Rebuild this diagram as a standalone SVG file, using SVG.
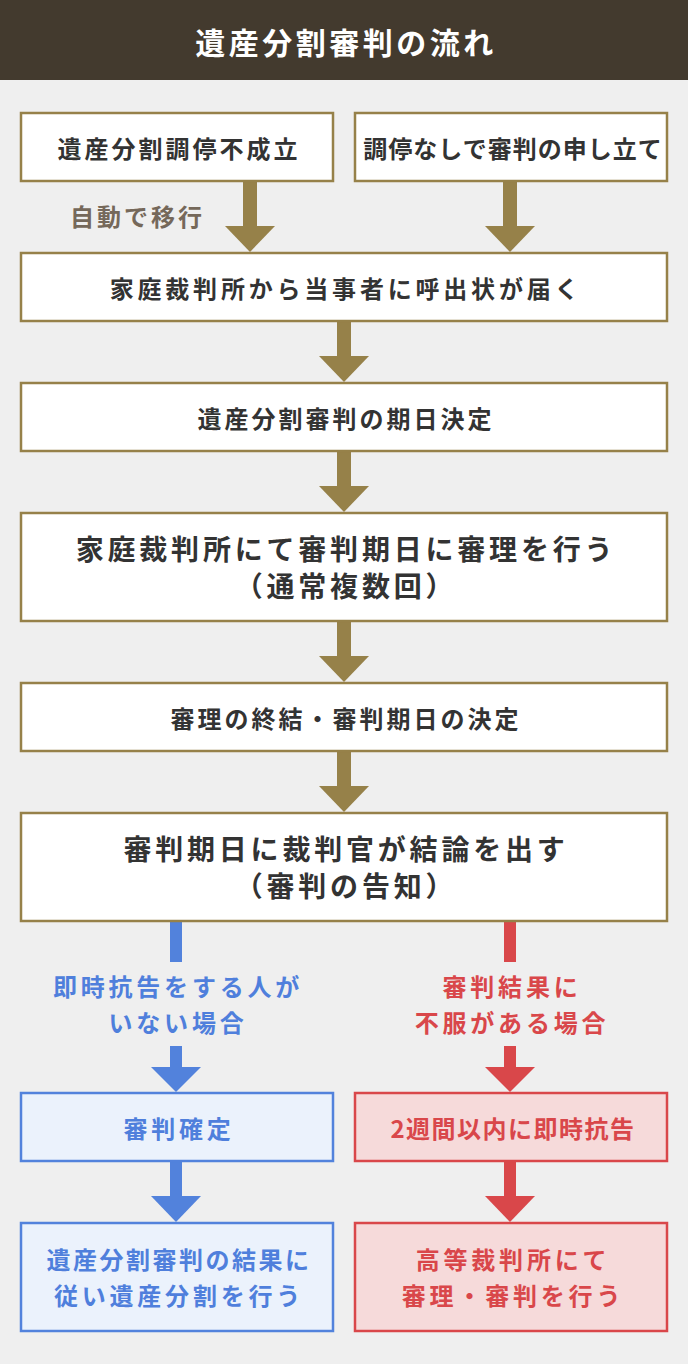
<svg xmlns="http://www.w3.org/2000/svg" width="688" height="1364" viewBox="0 0 688 1364">
<style>
text{font-family:"Noto Sans CJK JP","Noto Sans CJK SC",sans-serif;font-weight:bold;text-anchor:middle;dominant-baseline:central;letter-spacing:3px}
.b{fill:#fff;stroke:#968149;stroke-width:2.5}
.t{fill:#333;font-size:24px}
.L{fill:#333;font-size:28px;letter-spacing:3.8px}
.bb{fill:#ebf2fc;stroke:#5282dc;stroke-width:2.5}
.rb{fill:#f6dada;stroke:#d9474a;stroke-width:2.5}
.bt{fill:#4f7fdc;font-size:24px;letter-spacing:3.8px}
.rt{fill:#d9474a;font-size:24px;letter-spacing:3.8px}
</style>
<rect width="688" height="1364" fill="#efefef"/>
<rect width="688" height="80" fill="#433a2e"/>
<text x="346" y="41" fill="#fff" font-size="30" style="letter-spacing:3.5px">遺産分割審判の流れ</text>
<g id="connectors">
<g fill="#968149">
<rect x="243" y="181" width="14" height="45"/><polygon points="225,226 275,226 250,252"/>
<rect x="503" y="181" width="14" height="45"/><polygon points="485,226 535,226 510,252"/>
<rect x="337" y="321" width="14" height="35"/><polygon points="319,356 369,356 344,382"/>
<rect x="337" y="451" width="14" height="35"/><polygon points="319,486 369,486 344,512"/>
<rect x="337" y="621" width="14" height="35"/><polygon points="319,656 369,656 344,682"/>
<rect x="337" y="751" width="14" height="35"/><polygon points="319,786 369,786 344,812"/>
</g>
<g fill="#5282dc">
<rect x="170" y="921" width="12" height="41"/>
<rect x="170" y="1046" width="12" height="22"/><polygon points="151,1067 201,1067 176,1092"/>
<rect x="170" y="1161" width="12" height="36"/><polygon points="151,1196 201,1196 176,1222"/>
</g>
<g fill="#d9474a">
<rect x="504" y="921" width="12" height="41"/>
<rect x="504" y="1046" width="12" height="22"/><polygon points="485,1067 535,1067 510,1092"/>
<rect x="504" y="1161" width="12" height="36"/><polygon points="485,1196 535,1196 510,1222"/>
</g>
<text x="70" y="215" fill="#75685a" font-size="24" style="text-anchor:start">自動で移行</text>
<text x="178" y="985" class="bt">即時抗告をする人が</text>
<text x="178" y="1021" class="bt">いない場合</text>
<text x="512" y="985" class="rt">審判結果に</text>
<text x="512" y="1021" class="rt">不服がある場合</text>
</g>
<g id="n1"><rect class="b" x="21" y="113" width="312" height="68"/><text class="t" x="179" y="147">遺産分割調停不成立</text></g>
<g id="n2"><rect class="b" x="355" y="113" width="312" height="68"/><text class="t" x="513" y="147" style="letter-spacing:1px">調停なしで審判の申し立て</text></g>
<g id="n3"><rect class="b" x="21" y="253" width="646" height="68"/><text class="t" x="346" y="287" style="letter-spacing:3.8px">家庭裁判所から当事者に呼出状が届く</text></g>
<g id="n4"><rect class="b" x="21" y="383" width="646" height="68"/><text class="t" x="346" y="417">遺産分割審判の期日決定</text></g>
<g id="n5"><rect class="b" x="21" y="513" width="646" height="108"/><text class="L" x="346" y="548">家庭裁判所にて審判期日に審理を行う</text><text class="L" x="346" y="585">（通常複数回）</text></g>
<g id="n6"><rect class="b" x="21" y="683" width="646" height="68"/><text class="t" x="346" y="717">審理の終結・審判期日の決定</text></g>
<g id="n7"><rect class="b" x="21" y="813" width="646" height="108"/><text class="L" x="346" y="848">審判期日に裁判官が結論を出す</text><text class="L" x="346" y="885">（審判の告知）</text></g>
<g id="n8"><rect class="bb" x="21" y="1093" width="312" height="68"/><text class="bt" x="179" y="1127">審判確定</text></g>
<g id="n9"><rect class="rb" x="355" y="1093" width="312" height="68"/><text class="rt" x="513" y="1127" style="letter-spacing:1.5px">2週間以内に即時抗告</text></g>
<g id="n10"><rect class="bb" x="21" y="1223" width="312" height="108"/><text class="bt" x="179" y="1258" style="letter-spacing:2.5px">遺産分割審判の結果に</text><text class="bt" x="179" y="1294">従い遺産分割を行う</text></g>
<g id="n11"><rect class="rb" x="355" y="1223" width="312" height="108"/><text class="rt" x="513" y="1258">高等裁判所にて</text><text class="rt" x="513" y="1294">審理・審判を行う</text></g>
</svg>
